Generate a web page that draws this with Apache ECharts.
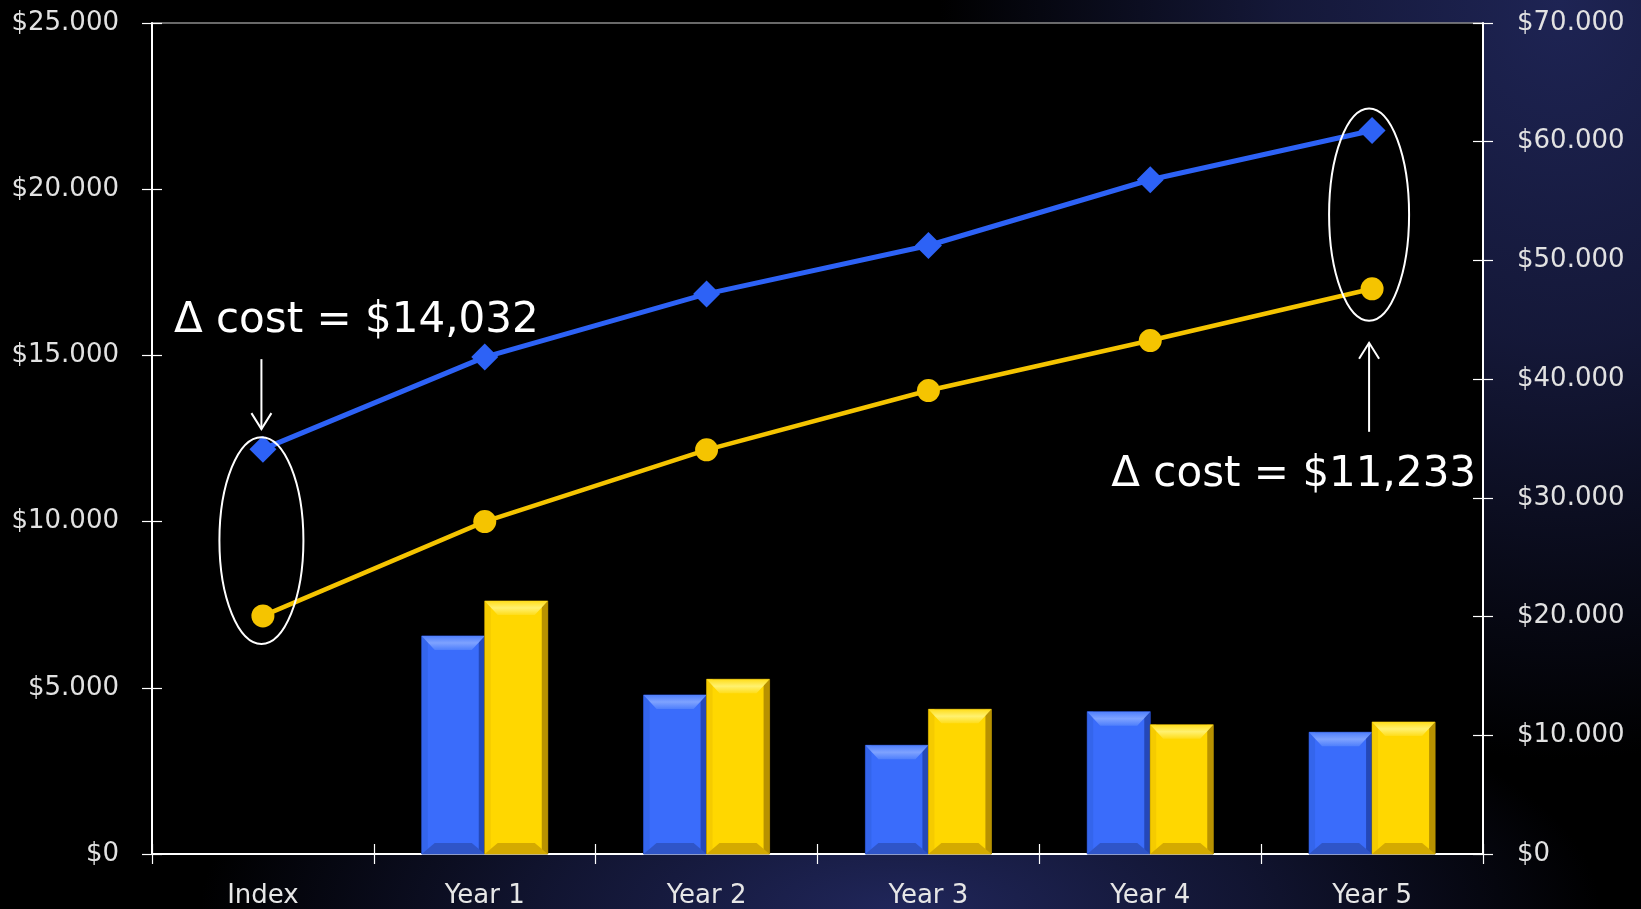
<!DOCTYPE html>
<html>
<head>
<meta charset="utf-8">
<script src="https://cdn.jsdelivr.net/npm/echarts@6/dist/echarts.min.js"></script>
<style>
  html, body { margin: 0; padding: 0; }
  body {
    width: 1641px; height: 909px; overflow: hidden;
    background:
      radial-gradient(ellipse 620px 760px at 1560px 0px, rgba(30,36,84,1) 0%, rgba(24,28,66,0.85) 45%, rgba(0,0,0,0) 100%),
      radial-gradient(ellipse 700px 260px at 900px 909px, rgba(32,38,90,1) 0%, rgba(22,26,62,0.8) 50%, rgba(0,0,0,0) 100%),
      #000;
  }
  #chart { width: 1641px; height: 909px; }
</style>
</head>
<body>
<div id="chart"></div>
<script>
// ---- data ----
const categories = ['Index', 'Year 1', 'Year 2', 'Year 3', 'Year 4', 'Year 5'];
const barBlue   = [null, 6561, 4785, 3271, 4283, 3663];
const barYellow = [null, 7614, 5258, 4355, 3891, 3973];
const lineBlue   = [34103, 41855, 47181, 51259, 56796, 60950];
const lineYellow = [20055, 28002, 34044, 39041, 43254, 47610];
const leftAxisRange  = [0, 25000, 5000];
const rightAxisRange = [0, 70000, 10000];
const noteLeft  = 'Δ cost = $14,032';
const noteRight = 'Δ cost = $11,233';

const FONT = 'DejaVu Sans';
const money = v => '$' + String(v).replace(/\B(?=(\d{3})+(?!\d))/g, '.');

const palBlue = { main: '#3a6cfb', top1: '#7ea2ff', top2: '#4f7ffc', left: '#3465ec', right: '#2448b8', bottom: '#2f55c8', edge: '#1d3a9a' };
const palYellow = { main: '#ffd700', top1: '#fff170', top2: '#ffdd1a', left: '#f5cb00', right: '#b89200', bottom: '#d4aa00', edge: '#8a6d00' };

function bevelBar(side, pal) {
  return function (params, api) {
    const v = api.value(1);
    if (v == null || isNaN(v)) return null;
    const c = api.value(0);
    const top = api.coord([c, v]);
    const base = api.coord([c, 0]);
    const cw = api.size([1, 0])[0];
    const w = cw * 0.284;
    const x0 = side < 0 ? top[0] - w : top[0];
    const x1 = x0 + w, y0 = top[1], y1 = base[1];
    const h = y1 - y0;
    const bt = Math.min(14, h / 3), bb = Math.min(11, h / 3), bs = 6, bd = Math.min(13, w / 3);
    return {
      type: 'group',
      children: [
        { type: 'rect', shape: { x: x0, y: y0, width: w, height: h }, style: { fill: pal.main, stroke: pal.edge, lineWidth: 1 } },
        { type: 'rect', shape: { x: x0, y: y0, width: bs, height: h }, style: { fill: pal.left } },
        { type: 'rect', shape: { x: x1 - bs, y: y0, width: bs, height: h }, style: { fill: pal.right } },
        { type: 'polygon', shape: { points: [[x0, y0], [x1, y0], [x1 - bd, y0 + bt], [x0 + bd, y0 + bt]] },
          style: { fill: new echarts.graphic.LinearGradient(0, 0, 0, 1, [{ offset: 0, color: pal.top2 }, { offset: 0.5, color: pal.top1 }, { offset: 1, color: pal.top2 }]) } },
        { type: 'polygon', shape: { points: [[x0, y1], [x0 + bd, y1 - bb], [x1 - bd, y1 - bb], [x1, y1]] }, style: { fill: pal.bottom } }
      ]
    };
  };
}

const chart = echarts.init(document.getElementById('chart'), null, { renderer: 'canvas' });

const labelStyle = { color: '#e2e2e2', fontFamily: FONT, fontSize: 26 };
const white = '#ffffff';

const option = {
  animation: false,
  backgroundColor: 'transparent',
  grid: { left: 152, right: 158, top: 23, bottom: 55, show: true, backgroundColor: '#000000', borderColor: '#8c8c8c', borderWidth: 1.5 },
  xAxis: [
    { type: 'category', data: categories, position: 'bottom', boundaryGap: true,
      axisLine: { show: true, lineStyle: { color: white, width: 2 } },
      axisTick: { show: true, inside: false, length: 10, lineStyle: { color: white, width: 1.2 } },
      axisLabel: { color: '#e6e6e6', fontFamily: FONT, fontSize: 26, margin: 29 },
      splitLine: { show: false } },
    { type: 'category', data: categories, position: 'bottom', boundaryGap: true,
      axisLine: { show: false },
      axisTick: { show: true, inside: true, length: 10, lineStyle: { color: white, width: 1.2 } },
      axisLabel: { show: false }, splitLine: { show: false } }
  ],
  yAxis: [
    { type: 'value', position: 'left', min: leftAxisRange[0], max: leftAxisRange[1], interval: leftAxisRange[2],
      axisLine: { show: true, lineStyle: { color: white, width: 2 } },
      axisTick: { show: true, inside: false, length: 10, lineStyle: { color: white, width: 1.2 } },
      axisLabel: Object.assign({ margin: 33, formatter: money }, labelStyle),
      splitLine: { show: false } },
    { type: 'value', position: 'right', min: rightAxisRange[0], max: rightAxisRange[1], interval: rightAxisRange[2],
      axisLine: { show: true, lineStyle: { color: white, width: 2 } },
      axisTick: { show: true, inside: false, length: 10, lineStyle: { color: white, width: 1.2 } },
      axisLabel: Object.assign({ margin: 34, formatter: money }, labelStyle),
      splitLine: { show: false } },
    { type: 'value', position: 'left', min: leftAxisRange[0], max: leftAxisRange[1], interval: leftAxisRange[2],
      axisLine: { show: false }, axisLabel: { show: false }, splitLine: { show: false },
      axisTick: { show: true, inside: true, length: 10, lineStyle: { color: white, width: 1.2 } } },
    { type: 'value', position: 'right', min: rightAxisRange[0], max: rightAxisRange[1], interval: rightAxisRange[2],
      axisLine: { show: false }, axisLabel: { show: false }, splitLine: { show: false },
      axisTick: { show: true, inside: true, length: 10, lineStyle: { color: white, width: 1.2 } } }
  ],
  series: [
    { type: 'custom', name: 'Blue annual', xAxisIndex: 0, yAxisIndex: 0, renderItem: bevelBar(-1, palBlue),
      encode: { x: 0, y: 1 }, data: barBlue.map((v, i) => [i, v == null ? NaN : v]), z: 2 },
    { type: 'custom', name: 'Yellow annual', xAxisIndex: 0, yAxisIndex: 0, renderItem: bevelBar(1, palYellow),
      encode: { x: 0, y: 1 }, data: barYellow.map((v, i) => [i, v == null ? NaN : v]), z: 2 },
    { type: 'line', name: 'Blue cumulative', xAxisIndex: 0, yAxisIndex: 1, data: lineBlue,
      symbol: 'diamond', symbolSize: 27, lineStyle: { color: '#2d62f6', width: 5 }, itemStyle: { color: '#2d62f6' }, z: 5 },
    { type: 'line', name: 'Yellow cumulative', xAxisIndex: 0, yAxisIndex: 1, data: lineYellow,
      symbol: 'circle', symbolSize: 23, lineStyle: { color: '#f5c400', width: 4.5 }, itemStyle: { color: '#f5c400' }, z: 5 }
  ]
};
chart.setOption(option);

// ---- annotations anchored to the data points ----
const last = categories.length - 1;
const bI = chart.convertToPixel({ seriesIndex: 2 }, [0, lineBlue[0]]);
const yI = chart.convertToPixel({ seriesIndex: 3 }, [0, lineYellow[0]]);
const b5 = chart.convertToPixel({ seriesIndex: 2 }, [last, lineBlue[last]]);
const y5 = chart.convertToPixel({ seriesIndex: 3 }, [last, lineYellow[last]]);

const stroke = { stroke: '#ffffff', lineWidth: 2, fill: null };
function arrow(x, yFrom, yTip) {
  const dir = yTip > yFrom ? 1 : -1;
  return [
    { type: 'polyline', shape: { points: [[x, yFrom], [x, yTip]] }, style: stroke, z: 10 },
    { type: 'polyline', shape: { points: [[x - 10, yTip - dir * 16], [x, yTip], [x + 10, yTip - dir * 16]] }, style: stroke, z: 10 }
  ];
}
const lx = bI[0] - 1.5, rx = b5[0] - 3;
chart.setOption({
  graphic: [
    { type: 'ellipse', shape: { cx: lx, cy: (bI[1] + yI[1]) / 2 + 8, rx: 42, ry: (yI[1] - bI[1]) / 2 + 20 }, style: stroke, z: 10 },
    { type: 'ellipse', shape: { cx: rx, cy: (b5[1] + y5[1]) / 2 + 5, rx: 40, ry: (y5[1] - b5[1]) / 2 + 27 }, style: stroke, z: 10 },
    ...arrow(lx, bI[1] - 90, bI[1] - 20),
    ...arrow(rx, y5[1] + 143, y5[1] + 54),
    { type: 'text', x: bI[0] - 89, y: bI[1] - 128, z: 10,
      style: { text: noteLeft, fill: '#ffffff', font: '42px "DejaVu Sans"', textAlign: 'left', textVerticalAlign: 'middle' } },
    { type: 'text', x: y5[0] + 104, y: y5[1] + 186, z: 10,
      style: { text: noteRight, fill: '#ffffff', font: '42px "DejaVu Sans"', textAlign: 'right', textVerticalAlign: 'middle' } }
  ]
});
</script>
</body>
</html>
